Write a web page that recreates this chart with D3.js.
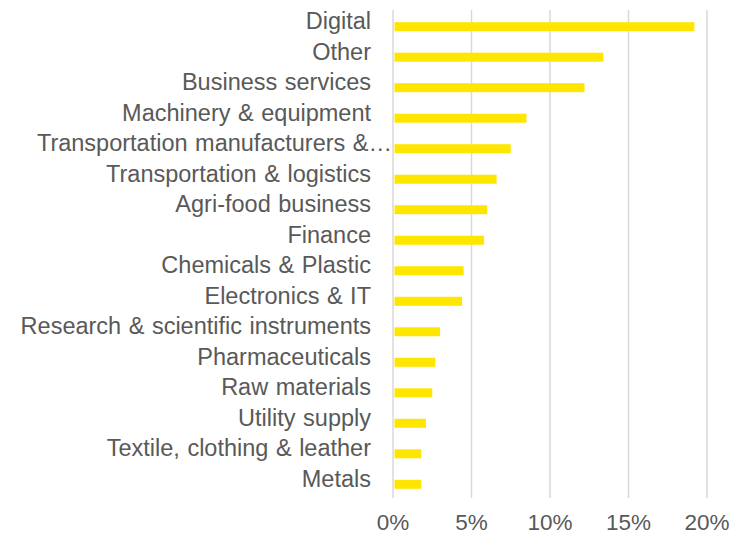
<!DOCTYPE html>
<html>
<head>
<meta charset="utf-8">
<script src="https://cdn.jsdelivr.net/npm/d3@7"></script>
<style>
  html, body { margin: 0; padding: 0; background: #fff; overflow: hidden; }
  svg { display: block; font-family: "Liberation Sans", Arial, sans-serif; }
</style>
</head>
<body>
<svg id="chart" width="734" height="534"></svg>
<script>
// Sectors, top to bottom, with their shares (percent)
const sectors = [
  "Digital",
  "Other",
  "Business services",
  "Machinery & equipment",
  "Transportation manufacturers &…",
  "Transportation & logistics",
  "Agri-food business",
  "Finance",
  "Chemicals & Plastic",
  "Electronics & IT",
  "Research & scientific instruments",
  "Pharmaceuticals",
  "Raw materials",
  "Utility supply",
  "Textile, clothing & leather",
  "Metals"
];
const shares = [19.2, 13.4, 12.2, 8.5, 7.5, 6.6, 6.0, 5.8, 4.5, 4.4, 3.0, 2.7, 2.5, 2.1, 1.8, 1.8];
const tickValues = [0, 5, 10, 15, 20];

const svg = d3.select("#chart");
const textColor = "#595959";
const barColor = "#FFE600";
const gridColor = "#d9d9d9";

const x = d3.scaleLinear().domain([0, 20]).range([393, 707]);
const y = d3.scaleBand().domain(sectors).range([11.5, 499.5]).paddingInner(0.705).paddingOuter(0.35);

// Vertical gridlines
svg.append("g")
  .selectAll("line")
  .data(tickValues)
  .join("line")
  .attr("x1", d => x(d)).attr("x2", d => x(d))
  .attr("y1", 10).attr("y2", 498)
  .attr("stroke", gridColor)
  .attr("stroke-width", 1.5);

// Bars
const rows = sectors.map((s, i) => ({ s, v: shares[i] }));
svg.append("g")
  .selectAll("rect")
  .data(rows)
  .join("rect")
  .attr("x", x(0) + 1.5)
  .attr("y", d => y(d.s))
  .attr("width", d => x(d.v) - x(0) - 1.5)
  .attr("height", y.bandwidth())
  .attr("fill", barColor);

// Category labels (truncated ones run up to the axis)
svg.append("g")
  .selectAll("text")
  .data(sectors)
  .join("text")
  .attr("x", d => d.endsWith("…") ? x(0) - 1 : 371)
  .attr("y", d => y(d) + y.bandwidth() / 2 + 2.6)
  .attr("text-anchor", "end")
  .attr("font-size", 23.5)
  .attr("word-spacing", 1)
  .attr("fill", textColor)
  .text(d => d);

// Value axis labels
svg.append("g")
  .selectAll("text")
  .data(tickValues)
  .join("text")
  .attr("x", d => x(d))
  .attr("y", 529.5)
  .attr("text-anchor", "middle")
  .attr("font-size", 22.5)
  .attr("fill", textColor)
  .text(d => d + "%");
</script>
</body>
</html>
